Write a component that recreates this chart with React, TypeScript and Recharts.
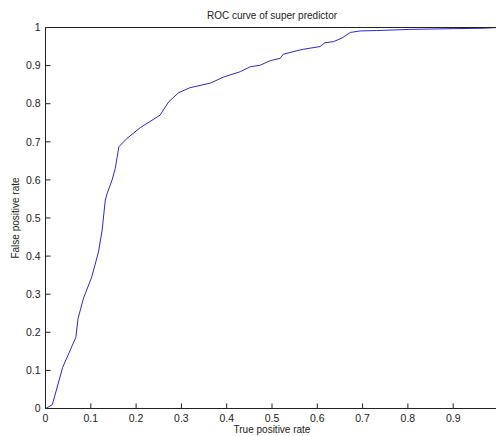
import { Line, LineChart, XAxis, YAxis } from "recharts";

const FONT = "'Liberation Sans', Arial, sans-serif";
const INK = "#222";

const truePositive = [
  0, 0.015, 0.038, 0.067, 0.072, 0.084, 0.102, 0.117, 0.125, 0.132, 0.136,
  0.147, 0.154, 0.162, 0.18, 0.209, 0.253, 0.272, 0.294, 0.319, 0.364, 0.393,
  0.43, 0.452, 0.474, 0.496, 0.518, 0.525, 0.555, 0.57, 0.606, 0.617, 0.636,
  0.654, 0.673, 0.695, 0.731, 0.805, 0.9, 0.966, 1,
];
const falsePositive = [
  0, 0.01, 0.108, 0.187, 0.237, 0.29, 0.345, 0.411, 0.468, 0.547, 0.564, 0.6,
  0.63, 0.687, 0.709, 0.737, 0.77, 0.805, 0.829, 0.842, 0.854, 0.87, 0.884,
  0.897, 0.901, 0.913, 0.919, 0.93, 0.939, 0.943, 0.95, 0.96, 0.963, 0.972,
  0.987, 0.991, 0.992, 0.995, 0.997, 0.998, 1,
];
// the "1" on the x axis falls past the window edge in the reference
const xTicks = [0, 0.1, 0.2, 0.3, 0.4, 0.5, 0.6, 0.7, 0.8, 0.9];
const yTicks = [0, 0.1, 0.2, 0.3, 0.4, 0.5, 0.6, 0.7, 0.8, 0.9, 1];

const data = truePositive.map((x, i) => ({ x, y: falsePositive[i] }));

const tickStyle = { fontSize: 10.5, fill: INK, fontFamily: FONT };

export default function App() {
  return (
    <div
      style={{
        position: "absolute",
        left: 0,
        top: 0,
        width: 496,
        height: 436,
        overflow: "hidden",
        background: "#fff",
        fontFamily: FONT,
        color: INK,
      }}
    >
      <LineChart
        width={500}
        height={436}
        data={data}
        margin={{ top: 26.5, right: 0.5, bottom: 26.5, left: 0 }}
      >
        <XAxis
          xAxisId="bottom"
          dataKey="x"
          type="number"
          domain={[0, 1]}
          ticks={xTicks}
          height={1}
          tickSize={-5}
          tickMargin={11}
          tick={tickStyle}
          stroke={INK}
          interval={0}
        />
        <XAxis
          xAxisId="top"
          orientation="top"
          dataKey="x"
          type="number"
          domain={[0, 1]}
          ticks={xTicks}
          height={1}
          tickSize={-5}
          tick={false}
          stroke={INK}
          interval={0}
        />
        <YAxis
          yAxisId="left"
          type="number"
          domain={[0, 1]}
          ticks={yTicks}
          width={45.5}
          tickSize={-5}
          tickMargin={10}
          tick={tickStyle}
          stroke={INK}
          interval={0}
        />
        <YAxis
          yAxisId="right"
          orientation="right"
          type="number"
          domain={[0, 1]}
          ticks={yTicks}
          width={1}
          tickSize={-5}
          tick={false}
          stroke={INK}
          interval={0}
        />
        <Line
          xAxisId="bottom"
          yAxisId="left"
          type="linear"
          dataKey="y"
          stroke="#2a2acf"
          strokeWidth={1}
          dot={false}
          isAnimationActive={false}
        />
        <Line
          xAxisId="top"
          yAxisId="right"
          type="linear"
          dataKey="y"
          stroke="none"
          dot={false}
          legendType="none"
          isAnimationActive={false}
        />
      </LineChart>
      <div
        style={{
          position: "absolute",
          left: 45.5,
          width: 453,
          top: 11,
          fontSize: 10,
          lineHeight: "10px",
          textAlign: "center",
        }}
      >
        ROC curve of super predictor
      </div>
      <div
        style={{
          position: "absolute",
          left: 45.5,
          width: 453,
          top: 425,
          fontSize: 10,
          lineHeight: "10px",
          textAlign: "center",
        }}
      >
        True positive rate
      </div>
      <div
        style={{
          position: "absolute",
          left: -84.5,
          width: 200,
          top: 213,
          height: 10,
          fontSize: 10,
          lineHeight: "10px",
          textAlign: "center",
          transform: "rotate(-90deg)",
        }}
      >
        False positive rate
      </div>
    </div>
  );
}
